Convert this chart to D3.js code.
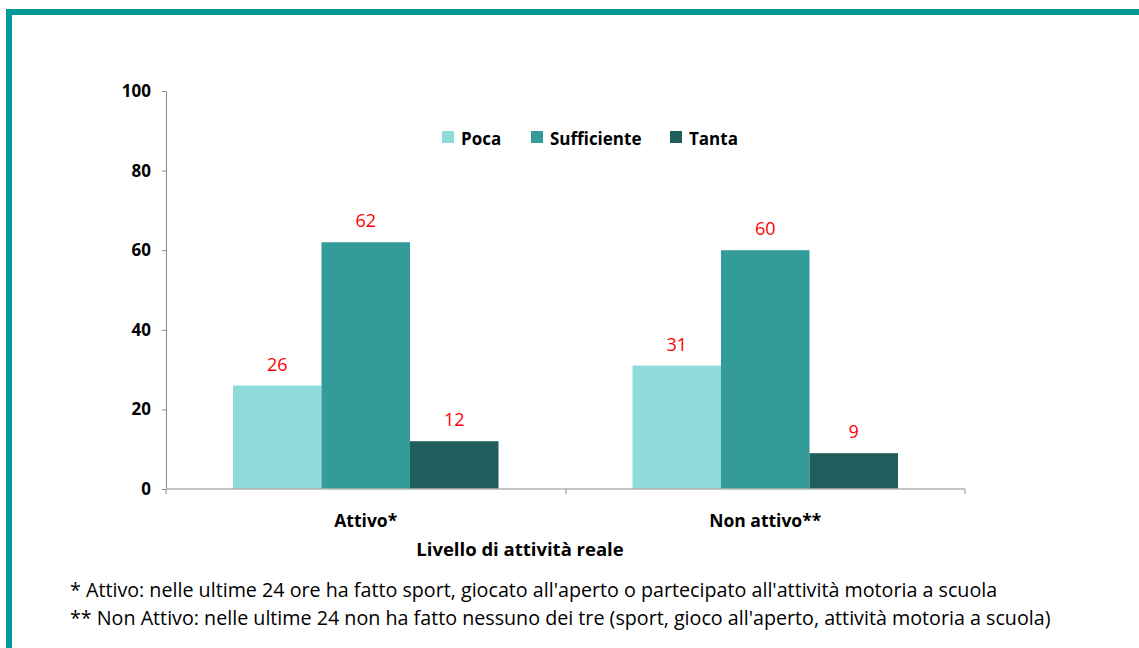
<!DOCTYPE html>
<html lang="it">
<head>
    <meta charset="UTF-8">
    <title>Livello di attività reale</title>
    <style>
        body {
            margin: 0;
            background: #fff;
        }
        svg text {
            font-family: "Open Sans", Lato, sans-serif;
        }
    </style>
</head>
<body>
    <div class="vis"><svg width="1139" height="648"></svg></div>
    <script src="https://cdnjs.cloudflare.com/ajax/libs/d3/7.8.5/d3.min.js"></script>
    <script>
        var categories = ['Attivo*', 'Non attivo**'];
        var series = ['Poca', 'Sufficiente', 'Tanta'];
        var poca = [26, 31];
        var sufficiente = [62, 60];
        var tanta = [12, 9];
        var yTicks = [0, 20, 40, 60, 80, 100];
        var axisTitle = 'Livello di attività reale';
        var notes = [
            "* Attivo: nelle ultime 24 ore ha fatto sport, giocato all'aperto o partecipato all'attività motoria a scuola",
            "** Non Attivo: nelle ultime 24 non ha fatto nessuno dei tre (sport, gioco all'aperto, attività motoria a scuola)"
        ];

        var colors = ['#8fdbd9', '#339b98', '#1f5e5c'];
        var values = [poca, sufficiente, tanta];

        var svg = d3.select('.vis svg');

        // teal frame (top and left)
        svg.append('rect').attr('x', 6).attr('y', 9).attr('width', 1133).attr('height', 6).attr('fill', '#009999');
        svg.append('rect').attr('x', 6).attr('y', 9).attr('width', 6).attr('height', 639).attr('fill', '#009999');

        var x0 = d3.scaleBand().domain(categories).range([166, 965]);
        var x1 = d3.scaleBand().domain(series).range([67, x0.bandwidth() - 67]);
        var y = d3.scaleLinear().domain([0, 100]).range([489, 91]);

        // bars
        var groups = svg.selectAll('g.cat')
            .data(categories)
            .enter()
            .append('g')
            .attr('class', 'cat')
            .attr('transform', d => `translate(${x0(d)},0)`);

        groups.selectAll('rect')
            .data((d, ci) => series.map((s, si) => ({ s: s, v: values[si][ci], c: colors[si] })))
            .enter()
            .append('rect')
            .attr('x', d => x1(d.s))
            .attr('y', d => y(d.v))
            .attr('width', x1.bandwidth())
            .attr('height', d => y(0) - y(d.v))
            .attr('fill', d => d.c);

        groups.selectAll('text.lbl')
            .data((d, ci) => series.map((s, si) => ({ s: s, v: values[si][ci] })))
            .enter()
            .append('text')
            .attr('class', 'lbl')
            .attr('x', d => x1(d.s) + x1.bandwidth() / 2)
            .attr('y', d => y(d.v) - 15)
            .attr('text-anchor', 'middle')
            .attr('font-size', 18)
            .attr('fill', '#ff0000')
            .text(d => d.v);

        // y axis
        var yAxis = svg.append('g')
            .attr('transform', 'translate(166,0)')
            .call(d3.axisLeft(y).tickValues(yTicks).tickSize(4).tickPadding(11));
        yAxis.select('.domain').attr('stroke', '#8c8c8c');
        yAxis.selectAll('.tick line').attr('stroke', '#8c8c8c');
        yAxis.selectAll('.tick text')
            .attr('font-size', 17)
            .attr('font-weight', 'bold')
            .attr('fill', '#000')
            .style('font-family', '"Open Sans", sans-serif');

        // x axis
        svg.append('line')
            .attr('x1', 166).attr('x2', 965)
            .attr('y1', y(0)).attr('y2', y(0))
            .attr('stroke', '#b3b3b3').attr('stroke-width', 1.5);
        svg.selectAll('line.xtick')
            .data([166, 566, 965])
            .enter()
            .append('line')
            .attr('class', 'xtick')
            .attr('x1', d => d).attr('x2', d => d)
            .attr('y1', y(0)).attr('y2', y(0) + 5)
            .attr('stroke', '#8c8c8c');

        svg.selectAll('text.cat')
            .data(categories)
            .enter()
            .append('text')
            .attr('class', 'cat')
            .attr('x', d => x0(d) + x0.bandwidth() / 2)
            .attr('y', 527)
            .attr('text-anchor', 'middle')
            .attr('font-size', 17.5)
            .attr('font-weight', 'bold')
            .text(d => d);

        svg.append('text')
            .attr('x', 520)
            .attr('y', 556)
            .attr('text-anchor', 'middle')
            .attr('font-size', 18.5)
            .attr('font-weight', 'bold')
            .text(axisTitle);

        // legend
        var leg = svg.selectAll('g.leg')
            .data(series)
            .enter()
            .append('g')
            .attr('class', 'leg')
            .attr('transform', (d, i) => `translate(${[442, 531, 670][i]},131)`);
        leg.append('rect')
            .attr('width', 12).attr('height', 12)
            .attr('fill', (d, i) => colors[i]);
        leg.append('text')
            .attr('x', 19).attr('y', 14)
            .attr('font-size', 17)
            .attr('font-weight', 'bold')
            .text(d => d);

        // footnotes
        svg.selectAll('text.note')
            .data(notes)
            .enter()
            .append('text')
            .attr('class', 'note')
            .attr('x', 70)
            .attr('y', (d, i) => 597 + i * 28)
            .attr('font-size', 19.7)
            .attr('fill', '#000')
            .text(d => d);
    </script>
</body>
</html>
